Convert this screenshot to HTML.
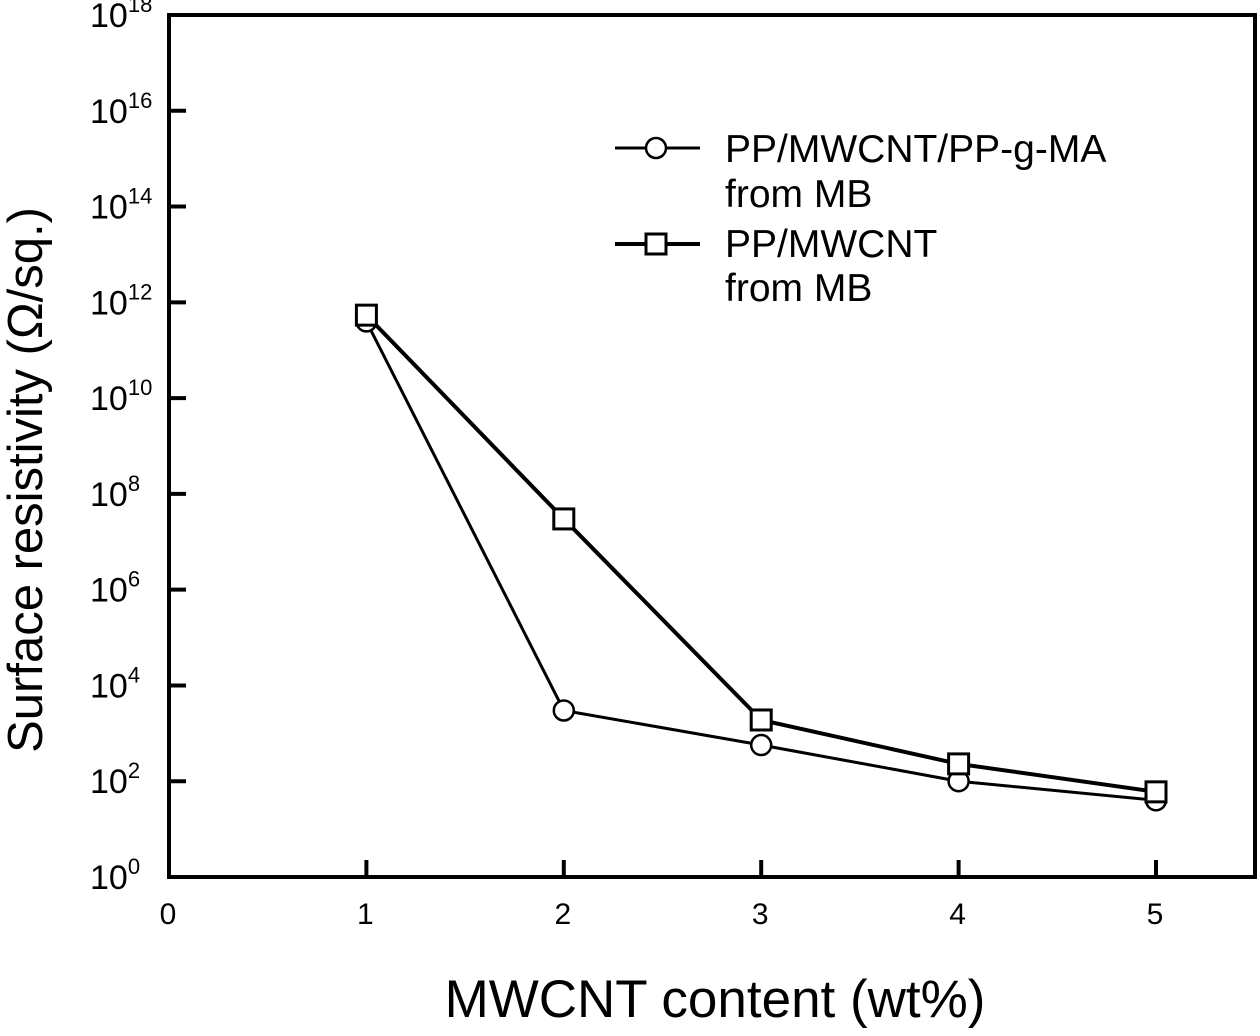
<!DOCTYPE html>
<html><head><meta charset="utf-8"><style>
body{margin:0;background:#fff}
text{font-family:"Liberation Sans",Arial,sans-serif;fill:#000}
</style></head><body>
<svg width="1260" height="1031" viewBox="0 0 1260 1031" xmlns="http://www.w3.org/2000/svg">
<g id="axes"></g>
<g id="series"></g>
<text x="0" y="0" font-size="49" text-anchor="middle" transform="translate(42 480) rotate(-90)">Surface resistivity (Ω/sq.)</text>
<text x="715" y="1017" font-size="53" text-anchor="middle">MWCNT content (wt%)</text>
<g>
<line x1="615" y1="148" x2="700" y2="148" stroke="#000" stroke-width="3"/>
<circle cx="656" cy="148" r="10" fill="#fff" stroke="#000" stroke-width="2.5"/>
<text x="725" y="162" font-size="39">PP/MWCNT/PP-g-MA</text>
<text x="725" y="207" font-size="39">from MB</text>
<line x1="615" y1="244" x2="700" y2="244" stroke="#000" stroke-width="4"/>
<rect x="646" y="234" width="20" height="20" fill="#fff" stroke="#000" stroke-width="3"/>
<text x="725" y="257" font-size="39">PP/MWCNT</text>
<text x="725" y="301" font-size="39">from MB</text>
</g>
</svg>
<script>
const xValues=[1,2,3,4,5];
const circleSeries=[4e11,3e3,570,100,40];
const squareSeries=[5.4e11,3e7,1900,230,60];
const xTicks=[0,1,2,3,4,5];
const yTickExps=[0,2,4,6,8,10,12,14,16,18];
const L=169,R=1255,T=15,B=877;
const xs=v=>L+(v-0)*(1156-L)/5;
const ys=v=>B-(Math.log10(v)-0)*(B-T)/18;
const NS="http://www.w3.org/2000/svg";
const ax=document.getElementById('axes'),se=document.getElementById('series');
function mk(tag,attrs,parent){const e=document.createElementNS(NS,tag);for(const k in attrs)e.setAttribute(k,attrs[k]);parent.appendChild(e);return e;}
const fr=mk('rect',{x:L,y:T,width:R-L,height:B-T,fill:'none',stroke:'#000','stroke-width':4},ax);


xTicks.forEach(v=>{
  const x=xs(v);
  if(v>0){const t=mk('line',{x1:x,y1:B,x2:x,y2:B-17,stroke:'#000','stroke-width':4},ax);
  
  }
  const lb=mk('text',{x:x-1,y:924,'font-size':30,'text-anchor':'middle'},ax);lb.textContent=v;
  
  
});
yTickExps.forEach(e=>{
  const y=ys(Math.pow(10,e));
  if(e>0&&e<18){const t=mk('line',{x1:L,y1:y,x2:L+17,y2:y,stroke:'#000','stroke-width':4},ax);
  
  }
  const lb=mk('text',{x:90,y:y+12,'font-size':34,'text-anchor':'start'},ax);
  
  
  lb.innerHTML='10<tspan dy="-15" font-size="22">'+e+'</tspan>';
});
function line(vals,w,name){
  const p=mk('polyline',{points:vals.map((v,i)=>xs(xValues[i])+','+ys(v)).join(' '),fill:'none',stroke:'#000','stroke-width':w},se);
  
  
}
line(circleSeries,3,'line-pp-mwcnt-ppgma');
line(squareSeries,4,'line-pp-mwcnt');
circleSeries.forEach((v,i)=>{const c=mk('circle',{cx:xs(xValues[i]),cy:ys(v),r:10,fill:'#fff',stroke:'#000','stroke-width':2.5},se);

});
squareSeries.forEach((v,i)=>{const r=mk('rect',{x:xs(xValues[i])-10,y:ys(v)-10,width:20,height:20,fill:'#fff',stroke:'#000','stroke-width':3},se);

});
</script>
</body></html>
